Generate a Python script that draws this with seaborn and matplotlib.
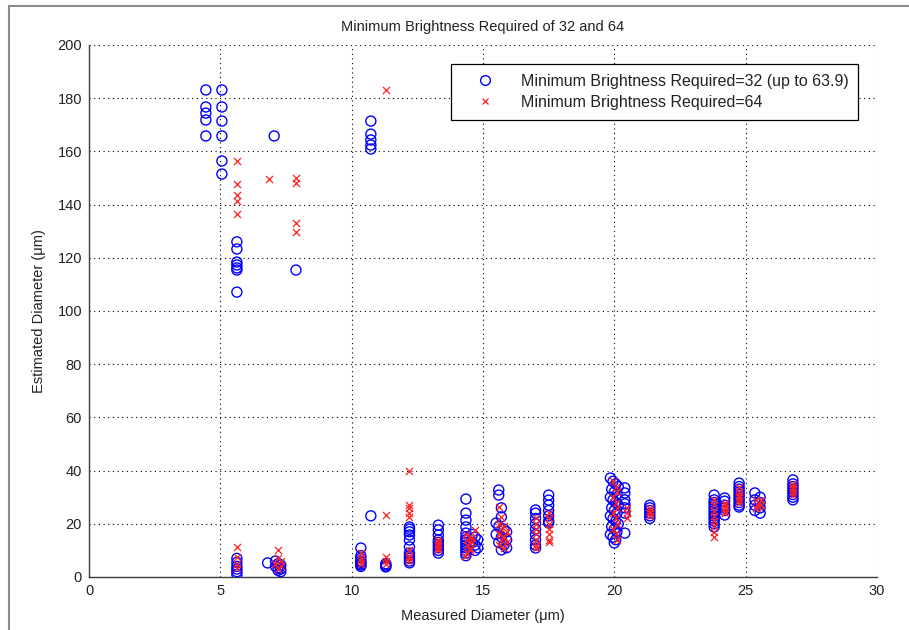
import matplotlib
matplotlib.use("Agg")
import matplotlib.pyplot as plt
from matplotlib.lines import Line2D
import seaborn as sns
import pandas as pd

# Brightness threshold 32 (up to 63.9): measured vs estimated diameter
circle_x = (
    [4.45] * 5 + [5.06] * 6 + [7.05] + [5.63] * 7 + [7.88] + [10.73] * 5
    + [5.63] * 6 + [6.8] + [7.1, 7.2, 7.3, 7.1, 7.2, 7.3, 7.2, 7.3]
    + [10.35] * 8 + [10.73] + [11.3] * 4
    + [12.2] * 11 + [13.3] * 9 + [14.35] * 13 + [14.6, 14.7, 14.8, 14.6, 14.7, 14.8, 14.7]
    + [15.6, 15.6, 15.7, 15.7, 15.5, 15.6, 15.8, 15.9, 15.5, 15.7, 15.9, 15.6, 15.8, 15.9, 15.7]
    + [17.0] * 9 + [17.5] * 7
    + [19.85, 19.95, 20.05, 20.15, 19.9, 20.0, 20.1, 19.85, 19.95, 20.05, 20.15, 19.9, 20.0,
       20.1, 19.85, 19.95, 20.05, 20.15, 19.9, 20.0, 20.1, 19.85, 19.95, 20.05, 20.0]
    + [20.4] * 7 + [21.35] * 6 + [23.8] * 12 + [24.2] * 6 + [24.75] * 10
    + [25.35, 25.55, 25.35, 25.55, 25.35, 25.55, 25.35, 25.55] + [26.8] * 8
)
circle_y = (
    [183.1, 176.7, 174.4, 171.8, 165.8]
    + [183.1, 176.7, 171.4, 165.8, 156.4, 151.5]
    + [165.8]
    + [126.0, 123.3, 118.4, 117.3, 116.2, 115.4, 107.1]
    + [115.4]
    + [171.4, 166.5, 164.3, 162.4, 160.9]
    + [7.0, 5.5, 4.0, 3.0, 2.0, 1.0]
    + [5.3]
    + [6.0, 5.0, 4.5, 4.0, 3.5, 3.0, 2.5, 2.0]
    + [10.9, 8.0, 7.0, 6.0, 5.5, 5.0, 4.5, 4.0]
    + [23.0]
    + [5.0, 4.0, 3.8, 4.5]
    + [18.8, 15.8, 13.9, 11.3, 9.0, 8.0, 7.0, 6.0, 5.3, 18.0, 17.0]
    + [19.5, 17.7, 15.8, 13.9, 13.0, 12.0, 11.0, 10.0, 9.0]
    + [29.3, 24.0, 21.4, 18.8, 16.5, 15.0, 14.0, 13.0, 12.0, 11.0, 10.0, 9.0, 8.0]
    + [16.0, 15.0, 14.0, 13.0, 12.0, 11.0, 10.0]
    + [32.7, 30.8, 26.0, 22.6, 20.3, 19.0, 18.0, 17.0, 16.0, 15.0, 14.0, 13.0, 12.0, 11.0, 10.2]
    + [25.2, 24.0, 22.0, 20.0, 18.0, 16.0, 14.0, 12.0, 10.9]
    + [30.8, 28.9, 27.0, 25.0, 23.0, 21.0, 20.3]
    + [37.2, 36.0, 35.0, 34.0, 33.0, 32.0, 31.0, 30.0, 29.0, 28.0, 27.0, 26.0, 25.0,
       24.0, 23.0, 22.0, 21.0, 20.0, 19.0, 18.0, 17.0, 16.0, 15.0, 14.0, 12.8]
    + [33.5, 31.6, 29.0, 27.5, 26.0, 24.0, 16.5]
    + [27.0, 26.0, 25.0, 24.0, 23.0, 22.0]
    + [30.8, 29.0, 28.0, 27.0, 26.0, 25.0, 24.0, 23.0, 22.0, 21.0, 20.0, 18.8]
    + [29.7, 28.5, 27.0, 26.0, 25.0, 23.3]
    + [35.3, 34.0, 33.0, 32.0, 31.0, 30.0, 29.0, 28.0, 27.0, 26.3]
    + [31.6, 30.0, 29.0, 28.0, 27.0, 26.0, 25.0, 24.0]
    + [36.5, 35.0, 34.0, 33.0, 32.0, 31.0, 30.0, 29.0]
)

# Brightness threshold 64
cross_x = (
    [5.63] * 5 + [6.85] + [7.88] * 4 + [11.3]
    + [5.63] * 4 + [7.2, 7.2, 7.1, 7.3, 7.2, 7.3]
    + [10.35] * 4 + [11.3] * 4
    + [12.2] * 9 + [13.3] * 5
    + [14.35, 14.5, 14.4, 14.6, 14.4, 14.5, 14.5, 14.4, 14.3, 14.7, 14.6]
    + [15.6, 15.7, 15.6, 15.8, 15.7, 15.9, 15.6, 15.8, 15.7, 15.9, 15.6, 15.8]
    + [17.0] * 7 + [17.5] * 7
    + [19.95, 20.05, 20.1, 19.95, 20.05, 20.1, 19.95, 20.05, 20.1, 19.95, 20.05, 20.1]
    + [20.5] * 3 + [21.35] * 4 + [23.8] * 8 + [24.2] * 5 + [24.75] * 6
    + [25.4, 25.5, 25.6, 25.4, 25.6, 25.5] + [26.8] * 5
)
cross_y = (
    [156.4, 147.7, 143.6, 141.4, 136.5]
    + [149.6]
    + [150.0, 148.1, 133.1, 129.7]
    + [183.1]
    + [11.3, 7.5, 5.0, 3.4]
    + [10.2, 7.0, 5.0, 4.0, 3.0, 6.0]
    + [9.0, 7.0, 6.0, 5.0]
    + [23.3, 7.5, 6.0, 5.0]
    + [39.8, 27.0, 26.0, 24.0, 22.6, 10.0, 8.0, 7.0, 6.0]
    + [14.0, 13.0, 12.0, 11.0, 10.0]
    + [16.0, 15.0, 14.0, 13.0, 12.0, 11.0, 10.0, 9.0, 8.0, 17.5, 14.5]
    + [26.3, 22.6, 20.0, 19.0, 18.0, 17.0, 16.0, 15.0, 14.0, 13.0, 12.0, 11.0]
    + [22.0, 20.0, 18.0, 16.0, 14.0, 12.0, 11.0]
    + [24.0, 22.0, 20.0, 18.0, 16.0, 14.0, 13.2]
    + [36.0, 34.0, 32.0, 30.0, 28.0, 26.0, 24.0, 22.0, 20.0, 18.0, 16.0, 14.0]
    + [26.0, 24.0, 22.0]
    + [26.0, 25.0, 24.0, 23.0]
    + [29.0, 27.0, 25.0, 23.0, 21.0, 19.0, 17.0, 15.0]
    + [28.0, 27.0, 26.0, 25.0, 24.0]
    + [34.0, 32.0, 31.0, 30.0, 29.0, 28.0]
    + [29.0, 28.0, 27.0, 26.0, 29.0, 26.5]
    + [35.0, 34.0, 33.0, 32.0, 31.0]
)

x_ticks = [0, 5, 10, 15, 20, 25, 30]
y_ticks = [0, 20, 40, 60, 80, 100, 120, 140, 160, 180, 200]

label_32 = "Minimum Brightness Required=32 (up to 63.9)"
label_64 = "Minimum Brightness Required=64"

df32 = pd.DataFrame({"measured": circle_x, "estimated": circle_y})
df64 = pd.DataFrame({"measured": cross_x, "estimated": cross_y})

sns.set_style("white")
plt.rcParams["font.family"] = ["Liberation Sans", "DejaVu Sans"]

fig = plt.figure(figsize=(9.09, 6.30), dpi=100)
ax = fig.add_axes([89 / 909, 1 - 577 / 630, 788 / 909, 532 / 630])

sns.scatterplot(data=df32, x="measured", y="estimated", ax=ax, marker="o",
                s=52, facecolor="none", edgecolor="#0000ff", linewidth=1.0,
                legend=False, zorder=3)
sns.scatterplot(data=df64, x="measured", y="estimated", ax=ax, marker="x",
                s=26, color="#ff2020", linewidth=0.9, legend=False, zorder=4)

ax.set_xlim(0, 30)
ax.set_ylim(0, 200)
ax.set_xticks(x_ticks)
ax.set_yticks(y_ticks)
ax.set_xticklabels([str(t) for t in x_ticks])
ax.set_yticklabels([str(t) for t in y_ticks])

ax.grid(True, color="#000000", linestyle=(0, (1, 3.2)), linewidth=0.8)
ax.set_axisbelow(True)
for side in ("top", "right"):
    ax.spines[side].set_visible(False)
for side in ("left", "bottom"):
    ax.spines[side].set_color("#3c3c3c")
    ax.spines[side].set_linewidth(1.0)
ax.tick_params(direction="in", length=4, width=0.9, color="#3c3c3c",
               labelsize=10.5, labelcolor="#222222", pad=5)

ax.set_title("Minimum Brightness Required of 32 and 64", fontsize=10.5,
             color="#222222", pad=10)
ax.set_xlabel("Measured Diameter (\u03bcm)", fontsize=10.5, color="#222222", labelpad=8)
ax.set_ylabel("Estimated Diameter (\u03bcm)", fontsize=10.5, color="#222222", labelpad=8)

handles = [
    Line2D([], [], marker="o", linestyle="none", markerfacecolor="none",
           markeredgecolor="#0000ff", markersize=7, markeredgewidth=1.0),
    Line2D([], [], marker="x", linestyle="none", color="#ff2020",
           markersize=5, markeredgewidth=0.9),
]
leg = ax.legend(handles, [label_32, label_64], loc="upper right",
                bbox_to_anchor=((858 - 89) / 788, (577 - 64) / 532),
                fontsize=11.5, frameon=True, fancybox=False, framealpha=1,
                edgecolor="#000000", handlelength=3.0, handletextpad=0.75,
                borderpad=0.6, labelspacing=0.4, borderaxespad=0)
leg.get_frame().set_linewidth(0.9)
for t in leg.get_texts():
    t.set_color("#222222")

# window frame edges along top and left
fig.add_artist(Line2D([9 / 909, 1.0], [1 - 6 / 630, 1 - 6 / 630],
                      transform=fig.transFigure, color="#8a8a8a", linewidth=1.5))
fig.add_artist(Line2D([9 / 909, 9 / 909], [0.0, 1 - 6 / 630],
                      transform=fig.transFigure, color="#8a8a8a", linewidth=1.5))

fig.savefig("out.png", dpi=100)
